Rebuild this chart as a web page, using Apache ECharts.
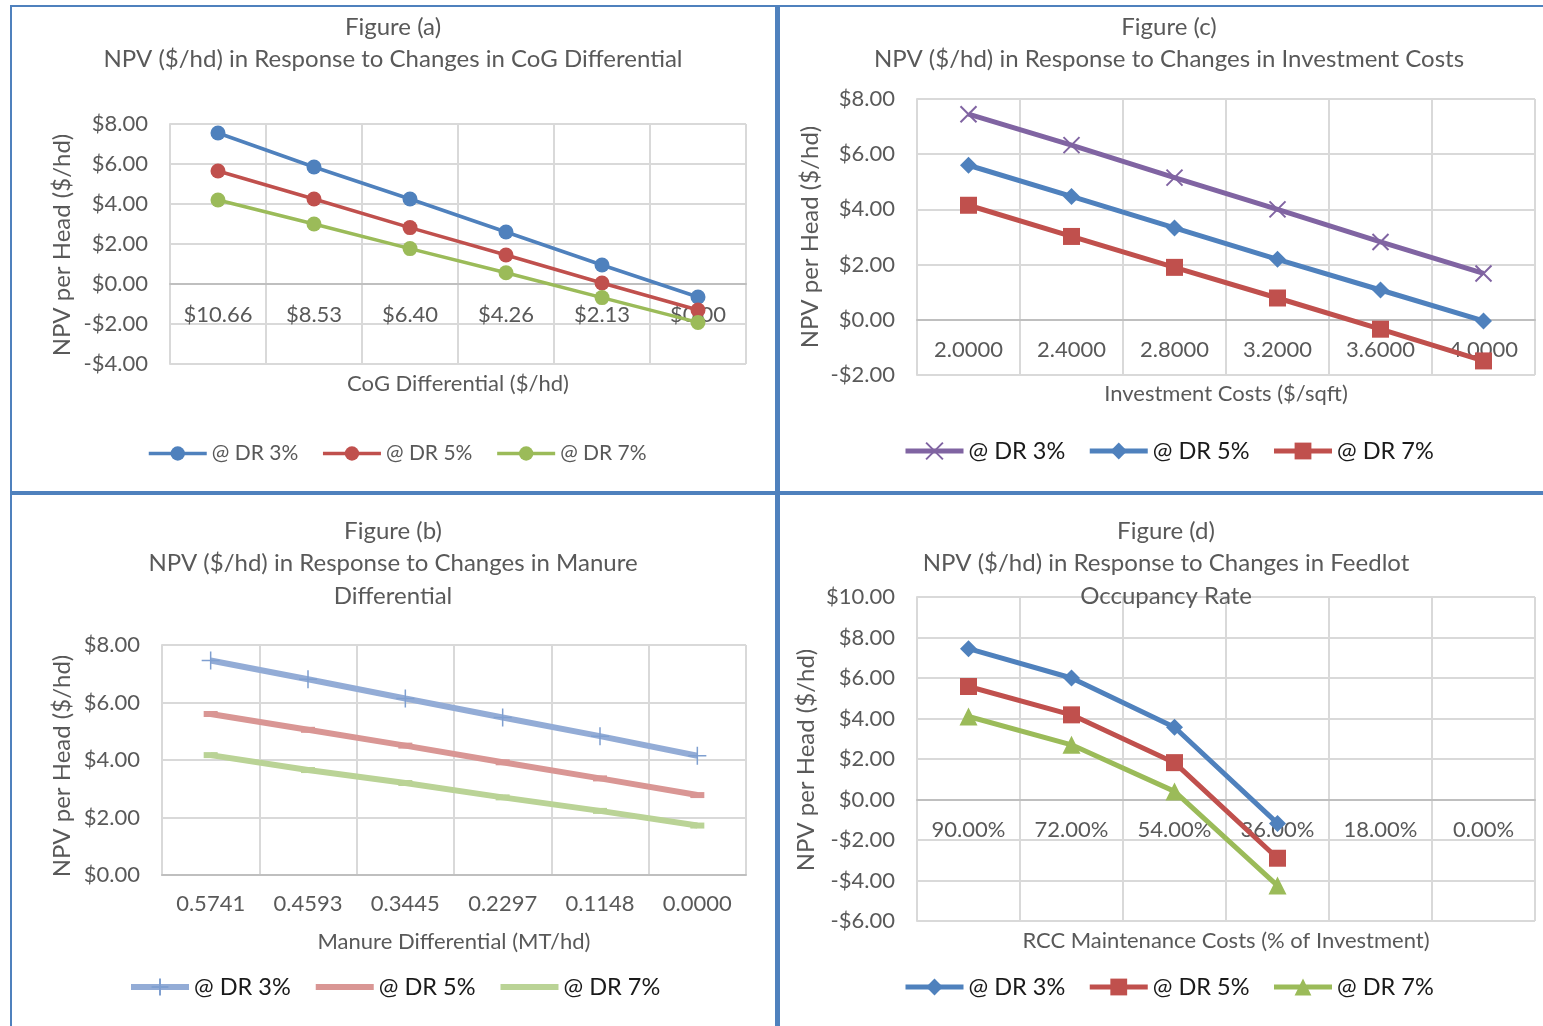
<!DOCTYPE html>
<html>
<head>
<meta charset="utf-8">
<script src="https://cdn.jsdelivr.net/npm/echarts@6/dist/echarts.min.js"></script>
<style>
html,body{margin:0;padding:0;background:#fff;width:1543px;height:1026px;overflow:hidden;}
.panel{position:absolute;}
.rule{position:absolute;background:#4f81bd;z-index:5;}
</style>
</head>
<body>
<div id="pa" class="panel" style="left:0;top:0;width:776px;height:492px"></div>
<div id="pc" class="panel" style="left:776px;top:0;width:767px;height:492px"></div>
<div id="pb" class="panel" style="left:0;top:492px;width:776px;height:534px"></div>
<div id="pd" class="panel" style="left:776px;top:492px;width:767px;height:534px"></div>
<div class="rule" style="left:10px;top:5px;width:1533px;height:2px"></div>
<div class="rule" style="left:10px;top:5px;width:2px;height:1021px"></div>
<div class="rule" style="left:775px;top:5px;width:5px;height:1021px"></div>
<div class="rule" style="left:10px;top:491px;width:1533px;height:4px"></div>
<script>
// Figure (a): CoG differential
const cogLabels = ['$10.66', '$8.53', '$6.40', '$4.26', '$2.13', '$0.00'];
const cogDR3 = [7.55, 5.85, 4.25, 2.6, 0.95, -0.65];
const cogDR5 = [5.65, 4.25, 2.82, 1.45, 0.05, -1.3];
const cogDR7 = [4.2, 3.0, 1.77, 0.56, -0.68, -1.92];

// Figure (c): investment costs
const invLabels = ['2.0000', '2.4000', '2.8000', '3.2000', '3.6000', '4.0000'];
const invDR3 = [7.45, 6.33, 5.15, 4.0, 2.82, 1.68];
const invDR5 = [5.6, 4.47, 3.33, 2.19, 1.08, -0.04];
const invDR7 = [4.15, 3.02, 1.9, 0.79, -0.34, -1.49];

// Figure (b): manure differential
const manLabels = ['0.5741', '0.4593', '0.3445', '0.2297', '0.1148', '0.0000'];
const manDR3 = [7.46, 6.81, 6.14, 5.48, 4.83, 4.15];
const manDR5 = [5.6, 5.05, 4.5, 3.92, 3.36, 2.78];
const manDR7 = [4.17, 3.65, 3.2, 2.7, 2.23, 1.72];

// Figure (d): feedlot occupancy rate
const occLabels = ['90.00%', '72.00%', '54.00%', '36.00%', '18.00%', '0.00%'];
const occDR3 = [7.45, 6.0, 3.57, -1.18, null, null];
const occDR5 = [5.58, 4.18, 1.82, -2.9, null, null];
const occDR7 = [4.1, 2.7, 0.4, -4.25, null, null];

const FONT = 'Lato, "Open Sans", sans-serif';
const GREY = '#595959';
const GRID_LINE = '#d9d9d9';

const X_MARK = 'path://M0,0L10,10M10,0L0,10';
const PLUS_MARK = 'path://M5,0L5,10M0,5L10,5';

function money(v) {
  return (v < 0 ? '-$' : '$') + Math.abs(v).toFixed(2);
}

function panel(id, o) {
  const chart = echarts.init(document.getElementById(id));
  const graphic = [];
  o.titles.forEach(function (t) {
    graphic.push({
      type: 'text', x: o.titleX, y: t[1], z: 10,
      style: { text: t[0], font: '24px ' + FONT, fill: GREY, align: 'center', verticalAlign: 'middle' }
    });
  });
  graphic.push({
    type: 'text', x: o.yName[1], y: o.yName[2], rotation: Math.PI / 2,
    style: { text: o.yName[0], font: '24px ' + FONT, fill: GREY, align: 'center', verticalAlign: 'middle' }
  });
  graphic.push({
    type: 'text', x: o.xName[1], y: o.xName[2],
    style: { text: o.xName[0], font: '22px ' + FONT, fill: GREY, align: 'center', verticalAlign: 'middle' }
  });

  // category axis sits on the zero line of the value axis
  const h = o.grid[3];
  const zeroOffset = o.y[0] < 0 ? -h * (0 - o.y[0]) / (o.y[1] - o.y[0]) : 0;

  // legend entries; plain-line series hide their marker in the key
  const legendData = o.series.map(function (s) {
    return s.plainKey ? { name: s.name, itemStyle: { opacity: 0 } } : { name: s.name };
  });

  chart.setOption({
    animation: false,
    textStyle: { fontFamily: FONT },
    graphic: graphic,
    grid: { left: o.grid[0], top: o.grid[1], width: o.grid[2], height: o.grid[3] },
    legend: {
      data: legendData,
      left: o.legend[0], top: o.legend[1], padding: 0,
      itemWidth: 58, itemHeight: o.legendIcon, itemGap: o.legendGap,
      lineStyle: { width: o.legendLine },
      textStyle: { fontSize: o.legendFont, color: o.legendColor, fontFamily: FONT }
    },
    xAxis: {
      type: 'category', data: o.cats, boundaryGap: true,
      offset: zeroOffset,
      axisLine: { onZero: false, lineStyle: { color: '#bfbfbf', width: 2 } },
      axisTick: { show: false },
      axisLabel: { color: GREY, fontSize: 22, margin: o.xMargin, interval: 0 },
      splitLine: { show: true, lineStyle: { color: GRID_LINE, width: 2 } }
    },
    yAxis: {
      type: 'value', min: o.y[0], max: o.y[1], interval: 2,
      axisLine: { show: true, lineStyle: { color: GRID_LINE, width: 2 } },
      axisTick: { show: false },
      axisLabel: { color: GREY, fontSize: 22, margin: 22, formatter: money },
      splitLine: { lineStyle: { color: GRID_LINE, width: 2 } }
    },
    series: o.series.map(function (s) {
      return {
        type: 'line', name: s.name, data: s.data,
        symbol: s.symbol, symbolSize: s.size, showAllSymbol: true,
        connectNulls: false, z: 3,
        lineStyle: { color: s.color, width: s.width },
        itemStyle: {
          color: s.fill || s.color,
          borderColor: s.border || s.color,
          borderWidth: s.borderWidth == null ? 0 : s.borderWidth
        }
      };
    })
  });
}

// Figure (a)
panel('pa', {
  titleX: 393,
  titles: [['Figure (a)', 27], ['NPV ($/hd) in Response to Changes in CoG Differential', 59]],
  yName: ['NPV per Head ($/hd)', 62, 245],
  xName: ['CoG Differential ($/hd)', 458, 384],
  grid: [170, 124, 576, 240],
  y: [-4, 8],
  xMargin: 20,
  cats: cogLabels,
  legend: [147, 443], legendIcon: 18, legendGap: 23, legendFont: 21, legendColor: GREY, legendLine: 3.5,
  series: [
    { name: '@ DR 3%', data: cogDR3, color: '#4f81bd', width: 3.5, symbol: 'circle', size: 15 },
    { name: '@ DR 5%', data: cogDR5, color: '#c0504d', width: 3.5, symbol: 'circle', size: 15 },
    { name: '@ DR 7%', data: cogDR7, color: '#9bbb59', width: 3.5, symbol: 'circle', size: 15 }
  ]
});

// Figure (c)
panel('pc', {
  titleX: 393,
  titles: [['Figure (c)', 27], ['NPV ($/hd) in Response to Changes in Investment Costs', 59]],
  yName: ['NPV per Head ($/hd)', 34, 237],
  xName: ['Investment Costs ($/sqft)', 450, 394],
  grid: [141, 99, 618, 276],
  y: [-2, 8],
  xMargin: 19,
  cats: invLabels,
  legend: [127, 439], legendIcon: 21, legendGap: 22, legendFont: 23.5, legendColor: '#1a1a1a', legendLine: 5,
  series: [
    { name: '@ DR 3%', data: invDR3, color: '#8064a2', width: 5, symbol: X_MARK, size: 16, border: '#8064a2', borderWidth: 2 },
    { name: '@ DR 5%', data: invDR5, color: '#4f81bd', width: 5, symbol: 'diamond', size: 17 },
    { name: '@ DR 7%', data: invDR7, color: '#c0504d', width: 5, symbol: 'rect', size: 17 }
  ]
});

// Figure (b)
panel('pb', {
  titleX: 393,
  titles: [['Figure (b)', 39], ['NPV ($/hd) in Response to Changes in Manure', 71], ['Differential', 104]],
  yName: ['NPV per Head ($/hd)', 62, 274],
  xName: ['Manure Differential (MT/hd)', 454, 450],
  grid: [162, 153, 584, 230],
  y: [0, 8],
  xMargin: 18,
  cats: manLabels,
  legend: [128, 483], legendIcon: 21, legendGap: 22, legendFont: 23.5, legendColor: '#1a1a1a', legendLine: 6,
  series: [
    { name: '@ DR 3%', data: manDR3, color: '#93acd6', width: 6, symbol: PLUS_MARK, size: 18, border: '#7f9fd0', borderWidth: 1.5 },
    { name: '@ DR 5%', data: manDR5, color: '#d99694', width: 6, symbol: 'rect', size: [14, 6], plainKey: true },
    { name: '@ DR 7%', data: manDR7, color: '#bad396', width: 6, symbol: 'rect', size: [14, 6], plainKey: true }
  ]
});

// Figure (d)
panel('pd', {
  titleX: 390,
  titles: [['Figure (d)', 39], ['NPV ($/hd) in Response to Changes in Feedlot', 71], ['Occupancy Rate', 104]],
  yName: ['NPV per Head ($/hd)', 30, 268],
  xName: ['RCC Maintenance Costs (% of Investment)', 450, 449],
  grid: [141, 105, 618, 324],
  y: [-6, 10],
  xMargin: 19,
  cats: occLabels,
  legend: [127, 483], legendIcon: 21, legendGap: 22, legendFont: 23.5, legendColor: '#1a1a1a', legendLine: 5,
  series: [
    { name: '@ DR 3%', data: occDR3, color: '#4f81bd', width: 5, symbol: 'diamond', size: 17 },
    { name: '@ DR 5%', data: occDR5, color: '#c0504d', width: 5, symbol: 'rect', size: 17 },
    { name: '@ DR 7%', data: occDR7, color: '#9bbb59', width: 5, symbol: 'triangle', size: 18 }
  ]
});
</script>
</body>
</html>
